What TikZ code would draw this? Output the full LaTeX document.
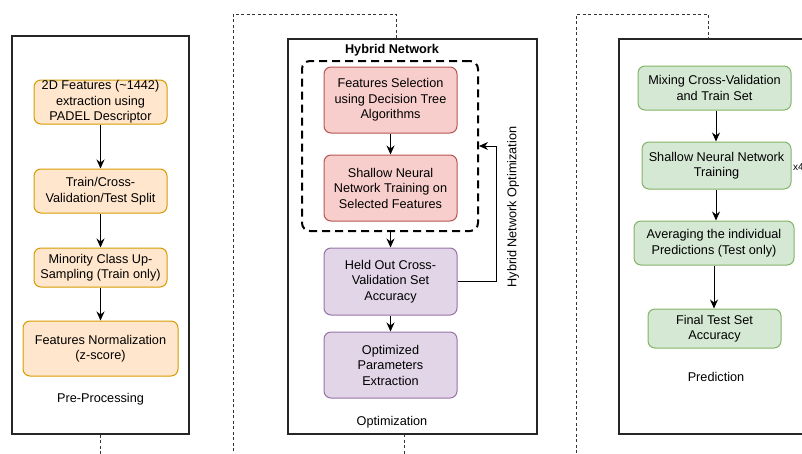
\documentclass[tikz,border=0pt]{standalone}
\usepackage{fontspec}
\setmainfont{Liberation Sans}
\usetikzlibrary{arrows.meta}

\definecolor{prefill}{HTML}{FFE6CC}
\definecolor{preline}{HTML}{D79B00}
\definecolor{selfill}{HTML}{F8CECC}
\definecolor{selline}{HTML}{B85450}
\definecolor{optfill}{HTML}{E1D5E7}
\definecolor{optline}{HTML}{9673A6}
\definecolor{predfill}{HTML}{D5E8D4}
\definecolor{predline}{HTML}{82B366}

\begin{document}
\begin{tikzpicture}[x=1pt, y=-1pt, font=\fontsize{12.7}{15.5}\selectfont,
        panel/.style={draw=black!85, line width=1.3pt, minimum width=#1},
        box/.style={rounded corners=7pt, line width=1pt, align=center, inner sep=0pt},
        prebox/.style={box, draw=preline, fill=prefill},
        selbox/.style={box, draw=selline, fill=selfill},
        optbox/.style={box, draw=optline, fill=optfill},
        predbox/.style={box, draw=predline, fill=predfill},
        arrow/.style={-{Stealth[length=9pt,width=8pt]}, line width=1pt},
        link/.style={draw=black!80, line width=0.9pt, dash pattern=on 3pt off 2.5pt}]
    \useasboundingbox (0,0) rectangle (802,453);

    % panels
    \node[panel=177pt, minimum height=398pt] (pre) at (100.5,235) {};
    \node[panel=249pt, minimum height=395pt] (opt) at (412.5,236.5) {};
    \node[panel=192pt, minimum height=395pt] (pred) at (715,236.5) {};
    \coordinate (optin) at (396,39);
    \coordinate (optout) at (404,434);
    \coordinate (predin) at (708,39);

    % pre-processing
    \node[prebox, minimum width=133pt, minimum height=44pt] (feat) at (100.5,102) {2D Features (\textasciitilde1442)\\extraction using\\PADEL Descriptor};
    \node[prebox, minimum width=133pt, minimum height=44pt] (split) at (100.5,191) {Train/Cross-\\Validation/Test Split};
    \node[prebox, minimum width=133pt, minimum height=39pt] (upsamp) at (100.5,267.5) {Minority Class Up-\\Sampling (Train only)};
    \node[prebox, minimum width=155pt, minimum height=55pt] (norm) at (100.5,348.5) {Features Normalization\\(z-score)};
    \node (prelabel) at (100.5,399) {Pre-Processing};
    \draw[arrow] (feat) -- (split);
    \draw[arrow] (split) -- (upsamp);
    \draw[arrow] (upsamp) -- (norm);

    % optimization
    \node[font=\fontsize{12.7}{15.5}\selectfont\bfseries] (hnlabel) at (392,50) {Hybrid Network};
    \node[draw, line width=2pt, dash pattern=on 8pt off 5pt, rounded corners=8pt,
          minimum width=176pt, minimum height=170pt] (hn) at (390,146) {};
    \node[selbox, minimum width=133pt, minimum height=66pt] (select) at (390.5,100) {Features Selection\\using Decision Tree\\Algorithms};
    \node[selbox, minimum width=133pt, minimum height=66pt] (snn) at (390.5,188) {Shallow Neural\\Network Training on\\Selected Features};
    \node[optbox, minimum width=133pt, minimum height=67pt] (heldout) at (390.5,281.5) {Held Out Cross-\\Validation Set\\Accuracy};
    \node[optbox, minimum width=133pt, minimum height=66pt] (params) at (390.5,365) {Optimized\\Parameters\\Extraction};
    \node (optlabel) at (392,422) {Optimization};
    \node[rotate=90] (looplabel) at (513,207) {Hybrid Network Optimization};
    \draw[arrow] (select) -- (snn);
    \draw[arrow] (hn.south -| heldout) -- (heldout);
    \draw[arrow] (heldout) -- (params);
    \draw[arrow] (heldout.east) -- ++(39,0) |- (hn.east);

    % prediction
    \node[predbox, minimum width=153pt, minimum height=44pt] (mix) at (714.5,88) {Mixing Cross-Validation\\and Train Set};
    \node[predbox, minimum width=149pt, minimum height=47pt] (train) at (716.5,165.5) {Shallow Neural Network\\Training};
    \node[predbox, minimum width=160pt, minimum height=44pt] (avg) at (714,243) {Averaging the individual\\Predictions (Test only)};
    \node[predbox, minimum width=133pt, minimum height=39pt] (final) at (714.5,328.5) {Final Test Set\\Accuracy};
    \node (predlabel) at (716,377) {Prediction};
    \node[anchor=west, inner sep=0pt, font=\fontsize{10}{12}\selectfont] (repeat) at (793,167) {x4};
    \draw[arrow] (mix.south -| 716,0) -- (train.north -| 716,0);
    \draw[arrow] (train.south -| 716,0) -- (avg.north -| 716,0);
    \draw[arrow] (avg.south -| 714,0) -- (final.north -| 714,0);

    % links between stages
    \draw[link] (pre.south) -- (100.5,462) -| (233,14) -| (optin);
    \draw[link] (optout) -- (404,462) -| (576,14) -| (predin);
\end{tikzpicture}
\end{document}
